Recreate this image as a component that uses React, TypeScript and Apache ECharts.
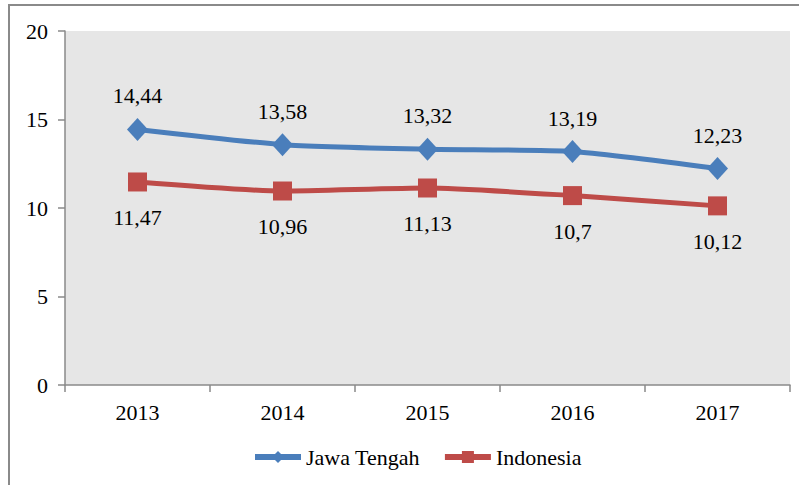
import React, { useEffect, useRef } from "react";
import * as echarts from "echarts";

const categories = ["2013", "2014", "2015", "2016", "2017"];
const jawaTengah = [14.44, 13.58, 13.32, 13.19, 12.23];
const indonesia = [11.47, 10.96, 11.13, 10.7, 10.12];
const seriesNames = ["Jawa Tengah", "Indonesia"];

const fmt = (v: number) => String(v).replace(".", ",");

export default function App() {
  const ref = useRef<HTMLDivElement>(null);
  useEffect(() => {
    document.body.style.margin = "0";
    const chart = echarts.init(ref.current!, null, { renderer: "svg" });
    const serif = "'Liberation Serif', 'Times New Roman', serif";
    chart.setOption({
      animation: false,
      backgroundColor: "#ffffff",
      graphic: [
        {
          type: "rect",
          shape: { x: 9, y: 5, width: 820, height: 520 },
          style: { fill: "none", stroke: "#8a8a8a", lineWidth: 2 },
          silent: true,
        },
      ],
      grid: { left: 65, top: 31, right: 9, bottom: 100, show: true, backgroundColor: "#e6e6e6", borderWidth: 0 },
      legend: {
        bottom: 12,
        left: 247,
        itemWidth: 46,
        itemHeight: 15,
        itemGap: 22,
        lineStyle: { width: 6 },
        textStyle: { fontFamily: serif, fontSize: 22, color: "#000" },
        data: seriesNames,
      },
      xAxis: {
        type: "category",
        data: categories,
        boundaryGap: true,
        axisLine: { lineStyle: { color: "#8a8a8a", width: 1.5 } },
        axisTick: { show: true, length: 7, lineStyle: { color: "#8a8a8a", width: 1.5 } },
        axisLabel: { fontFamily: serif, fontSize: 22, color: "#000", margin: 16 },
        splitLine: { show: false },
      },
      yAxis: {
        type: "value",
        min: 0,
        max: 20,
        interval: 5,
        axisLine: { show: true, lineStyle: { color: "#8a8a8a", width: 1.5 } },
        axisTick: { show: true, length: 7, lineStyle: { color: "#8a8a8a", width: 1.5 } },
        axisLabel: { fontFamily: serif, fontSize: 22, color: "#000", margin: 17 },
        splitLine: { show: false },
      },
      series: [
        {
          name: seriesNames[0],
          type: "line",
          data: jawaTengah,
          smooth: 0.2,
          symbol: "diamond",
          symbolSize: [21, 23],
          itemStyle: { color: "#4a7ebb" },
          lineStyle: { color: "#4a7ebb", width: 5 },
          label: {
            show: true,
            position: "top",
            distance: 11,
            formatter: (p: any) => fmt(p.value),
            fontFamily: serif,
            fontSize: 22,
            color: "#000",
          },
        },
        {
          name: seriesNames[1],
          type: "line",
          data: indonesia,
          smooth: 0.2,
          symbol: "rect",
          symbolSize: 19,
          itemStyle: { color: "#be4b48" },
          lineStyle: { color: "#be4b48", width: 5 },
          label: {
            show: true,
            position: "bottom",
            distance: 15,
            formatter: (p: any) => fmt(p.value),
            fontFamily: serif,
            fontSize: 22,
            color: "#000",
          },
        },
      ],
    });
    return () => chart.dispose();
  }, []);
  return <div ref={ref} style={{ width: 799, height: 485 }} />;
}
